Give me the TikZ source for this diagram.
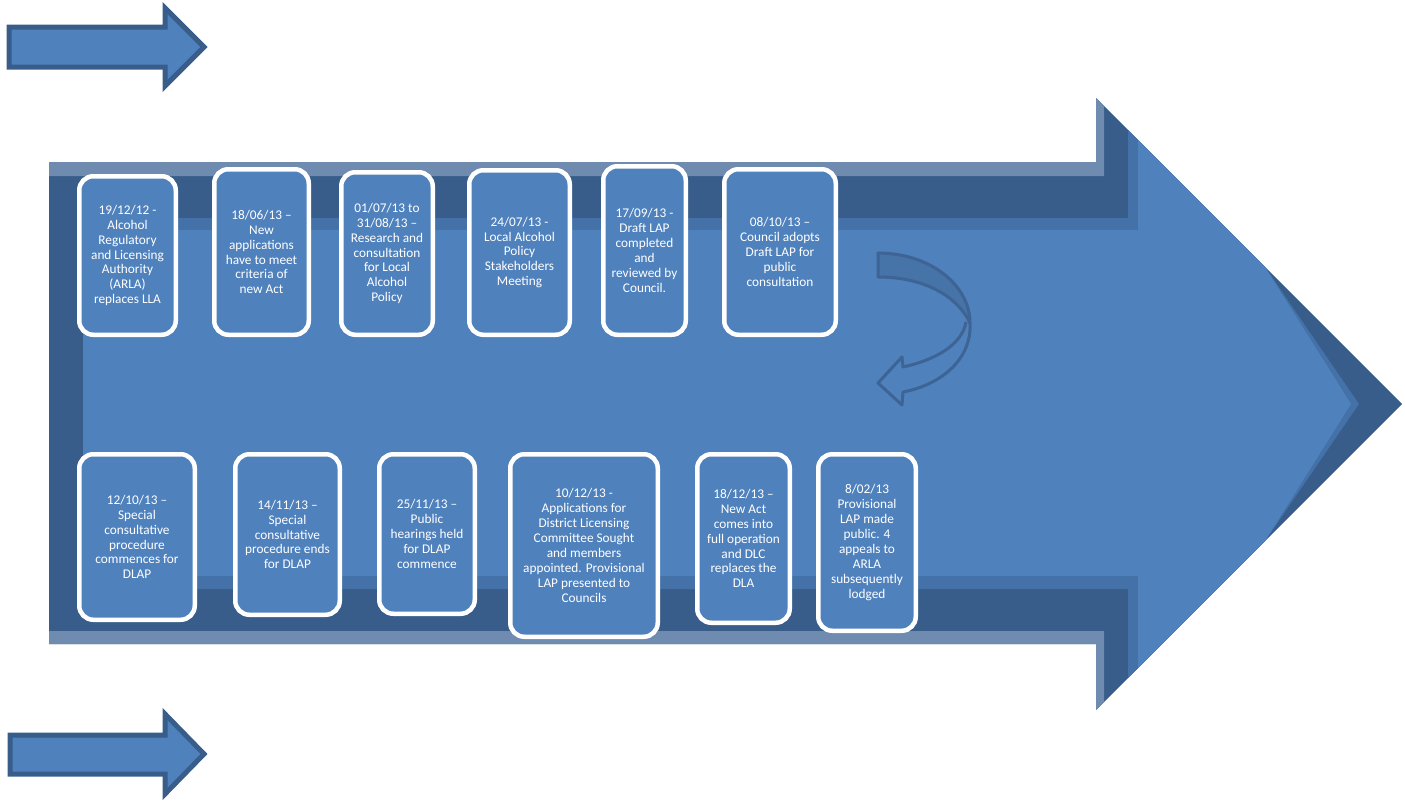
\documentclass[tikz,border=0pt]{standalone}
\usepackage{fontspec}
\newfontfamily\evtfont{Carlito}
\definecolor{mainblue}{HTML}{4F81BD}
\definecolor{darkblue}{HTML}{385D8A}
\definecolor{midblue}{HTML}{4371A8}
\definecolor{edgeblue}{HTML}{6F8BAF}
\definecolor{ribbon}{HTML}{4673A8}
\definecolor{ribbonline}{HTML}{3D6494}
\tikzset{
  evt/.style={draw=white, line width=4.5pt, fill=mainblue, rounded corners=14pt,
    text=white, align=center, inner sep=0pt,
    font={\evtfont\fontsize{13.3}{14.9}\selectfont}},
  smallarrow/.style={draw=darkblue, fill=mainblue, line width=5pt, line join=miter},
}
\begin{document}
\begin{tikzpicture}[x=1pt,y=-1pt]
\useasboundingbox (0,0) rectangle (1405,801);

% small arrows at the left
\draw[smallarrow] (9,27) -- (165,27) -- (165,8) -- (204,47) -- (165,86) -- (165,67) -- (9,67) -- cycle;
\draw[smallarrow] (10,735) -- (165,735) -- (165,714) -- (204,754) -- (165,794) -- (165,774) -- (10,774) -- cycle;

% large bevelled arrow
\fill[darkblue] (49,162) -- (1096,162) -- (1096,98) -- (1402,404) -- (1096,710) -- (1096,644) -- (49,644) -- cycle;
\fill[edgeblue] (49,162) -- (1096,162) -- (1096,98) -- (1104,106) -- (1104,176) -- (49,176) -- cycle;
\fill[edgeblue] (49,631) -- (1104,631) -- (1104,702) -- (1096,710) -- (1096,644) -- (49,644) -- cycle;
\fill[midblue] (83,218) -- (1128,218) -- (1128,130) -- (1265,267) -- (1359,404) -- (1265,541) -- (1128,678) -- (1128,589) -- (83,589) -- cycle;
\fill[mainblue] (83,230) -- (1138,230) -- (1138,140) -- (1265,267) -- (1351,404) -- (1265,541) -- (1138,668) -- (1138,576) -- (83,576) -- cycle;

% turning arrow between the two rows
\draw[ribbonline, fill=ribbon, line width=3pt, line join=round]
  (878,253) .. controls (930,253) and (970,285) .. (970,323)
  .. controls (958,297) and (925,277) .. (878,277) -- cycle;
\draw[ribbonline, line width=3pt, line join=round]
  (970,323) .. controls (972,360) and (940,385) .. (903,392)
  -- (902,405) -- (878,383) -- (902,357) -- (903,367)
  .. controls (935,360) and (962,345) .. (966,322);

% events, upper row
\node[evt, minimum width=96.5pt, minimum height=158.5pt] (e1) at (127.5,255.5)
  {19/12/12 -\\Alcohol\\Regulatory\\and Licensing\\Authority\\(ARLA)\\replaces LLA};
\node[evt, minimum width=94.5pt, minimum height=165.5pt] (e2) at (261.5,252)
  {18/06/13 –\\New\\applications\\have to meet\\criteria of\\new Act};
\node[evt, minimum width=91.5pt, minimum height=162.5pt] (e3) at (387,253.5)
  {01/07/13 to\\31/08/13 –\\Research and\\consultation\\for Local\\Alcohol\\Policy};
\node[evt, minimum width=100.5pt, minimum height=164.5pt] (e4) at (519.5,252.5)
  {24/07/13 -\\Local Alcohol\\Policy\\Stakeholders\\Meeting};
\node[evt, minimum width=82.5pt, minimum height=168.5pt] (e5) at (644.5,250.5)
  {17/09/13 -\\Draft LAP\\completed\\and\\reviewed by\\Council.};
\node[evt, minimum width=111.5pt, minimum height=165.5pt] (e6) at (780,252)
  {08/10/13 –\\Council adopts\\Draft LAP for\\public\\consultation};

% events, lower row
\node[evt, minimum width=115.5pt, minimum height=165.5pt] (e7) at (137,537)
  {12/10/13 –\\Special\\consultative\\procedure\\commences for\\DLAP};
\node[evt, minimum width=104.5pt, minimum height=160.5pt] (e8) at (287.5,534.5)
  {14/11/13 –\\Special\\consultative\\procedure ends\\for DLAP};
\node[evt, minimum width=95.5pt, minimum height=159.5pt] (e9) at (427,534)
  {25/11/13 –\\Public\\hearings held\\for DLAP\\commence};
\node[evt, minimum width=147.5pt, minimum height=182.5pt] (e10) at (584,545.5)
  {10/12/13 -\\Applications for\\District Licensing\\Committee Sought\\and members\\appointed. Provisional\\LAP presented to\\Councils};
\node[evt, minimum width=92.5pt, minimum height=168.5pt] (e11) at (743.5,538.5)
  {18/12/13 –\\New Act\\comes into\\full operation\\and DLC\\replaces the\\DLA};
\node[evt, minimum width=97.5pt, minimum height=176.5pt] (e12) at (867,542.5)
  {8/02/13\\Provisional\\LAP made\\public. 4\\appeals to\\ARLA\\subsequently\\lodged};
\end{tikzpicture}
\end{document}
